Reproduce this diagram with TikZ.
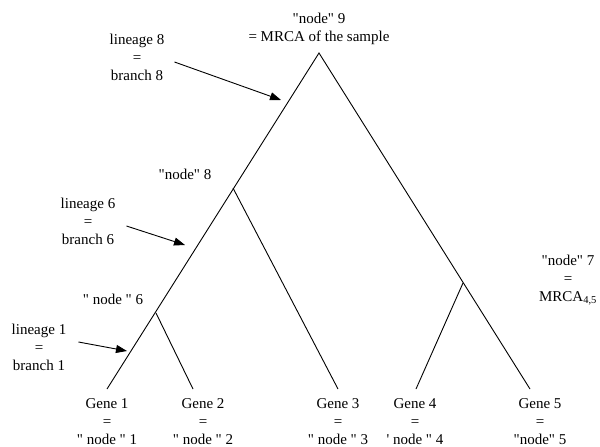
\documentclass[tikz,border=0pt]{standalone}
\usepackage{fontspec}
\setmainfont{Liberation Serif}[Ligatures=TeXOff]
\usetikzlibrary{arrows.meta}

\begin{document}
\begin{tikzpicture}[x=1pt,y=-1pt,
    every node/.style={align=center,inner sep=0pt,
      font=\fontsize{15}{18}\selectfont},
    branch/.style={line width=0.9pt},
    pointer/.style={line width=0.9pt,-{Triangle[length=11pt,width=8pt]}}]
\useasboundingbox (0,0) rectangle (600,447);
\coordinate (n9) at (319,53);
\coordinate (n8) at (233,188);
\coordinate (n6) at (156,313);
\coordinate (n7) at (463,283);
\coordinate (g1) at (107,389);
\coordinate (g2) at (193,389);
\coordinate (g3) at (338,389);
\coordinate (g4) at (416,389);
\coordinate (g5) at (530,389);
\draw[branch] (g1) -- (n9) -- (g5);
\draw[branch] (n8) -- (g3);
\draw[branch] (n6) -- (g2);
\draw[branch] (n7) -- (g4);
\node (root) at (319,29) {"node" 9\\= MRCA of the sample};
\node (lab8) at (185,174) {"node" 8};
\node (lab6) at (113,299) {" node " 6};
\node (lab7) at (568,280) {"node" 7\\=\\MRCA\textsubscript{4,5}};
\node (l8) at (137,57) {lineage 8\\=\\branch 8};
\node (l6) at (88,221) {lineage 6\\=\\branch 6};
\node (l1) at (39,347) {lineage 1\\=\\branch 1};
\node (gene1) at (107,422) {Gene 1\\=\\" node " 1};
\node (gene2) at (203,422) {Gene 2\\=\\" node " 2};
\node (gene3) at (338,422) {Gene 3\\=\\" node " 3};
\node (gene4) at (415,422) {Gene 4\\=\\' node " 4};
\node (gene5) at (540,422) {Gene 5\\=\\"node" 5};
\coordinate (t8) at (281,100);
\coordinate (t6) at (185,245);
\coordinate (t1) at (127,351);
\draw[pointer] ([shift={(10,5)}]l8.east) -- (t8);
\draw[pointer] ([shift={(11,5)}]l6.east) -- (t6);
\draw[pointer] ([shift={(12,-5)}]l1.east) -- (t1);
\end{tikzpicture}
\end{document}
